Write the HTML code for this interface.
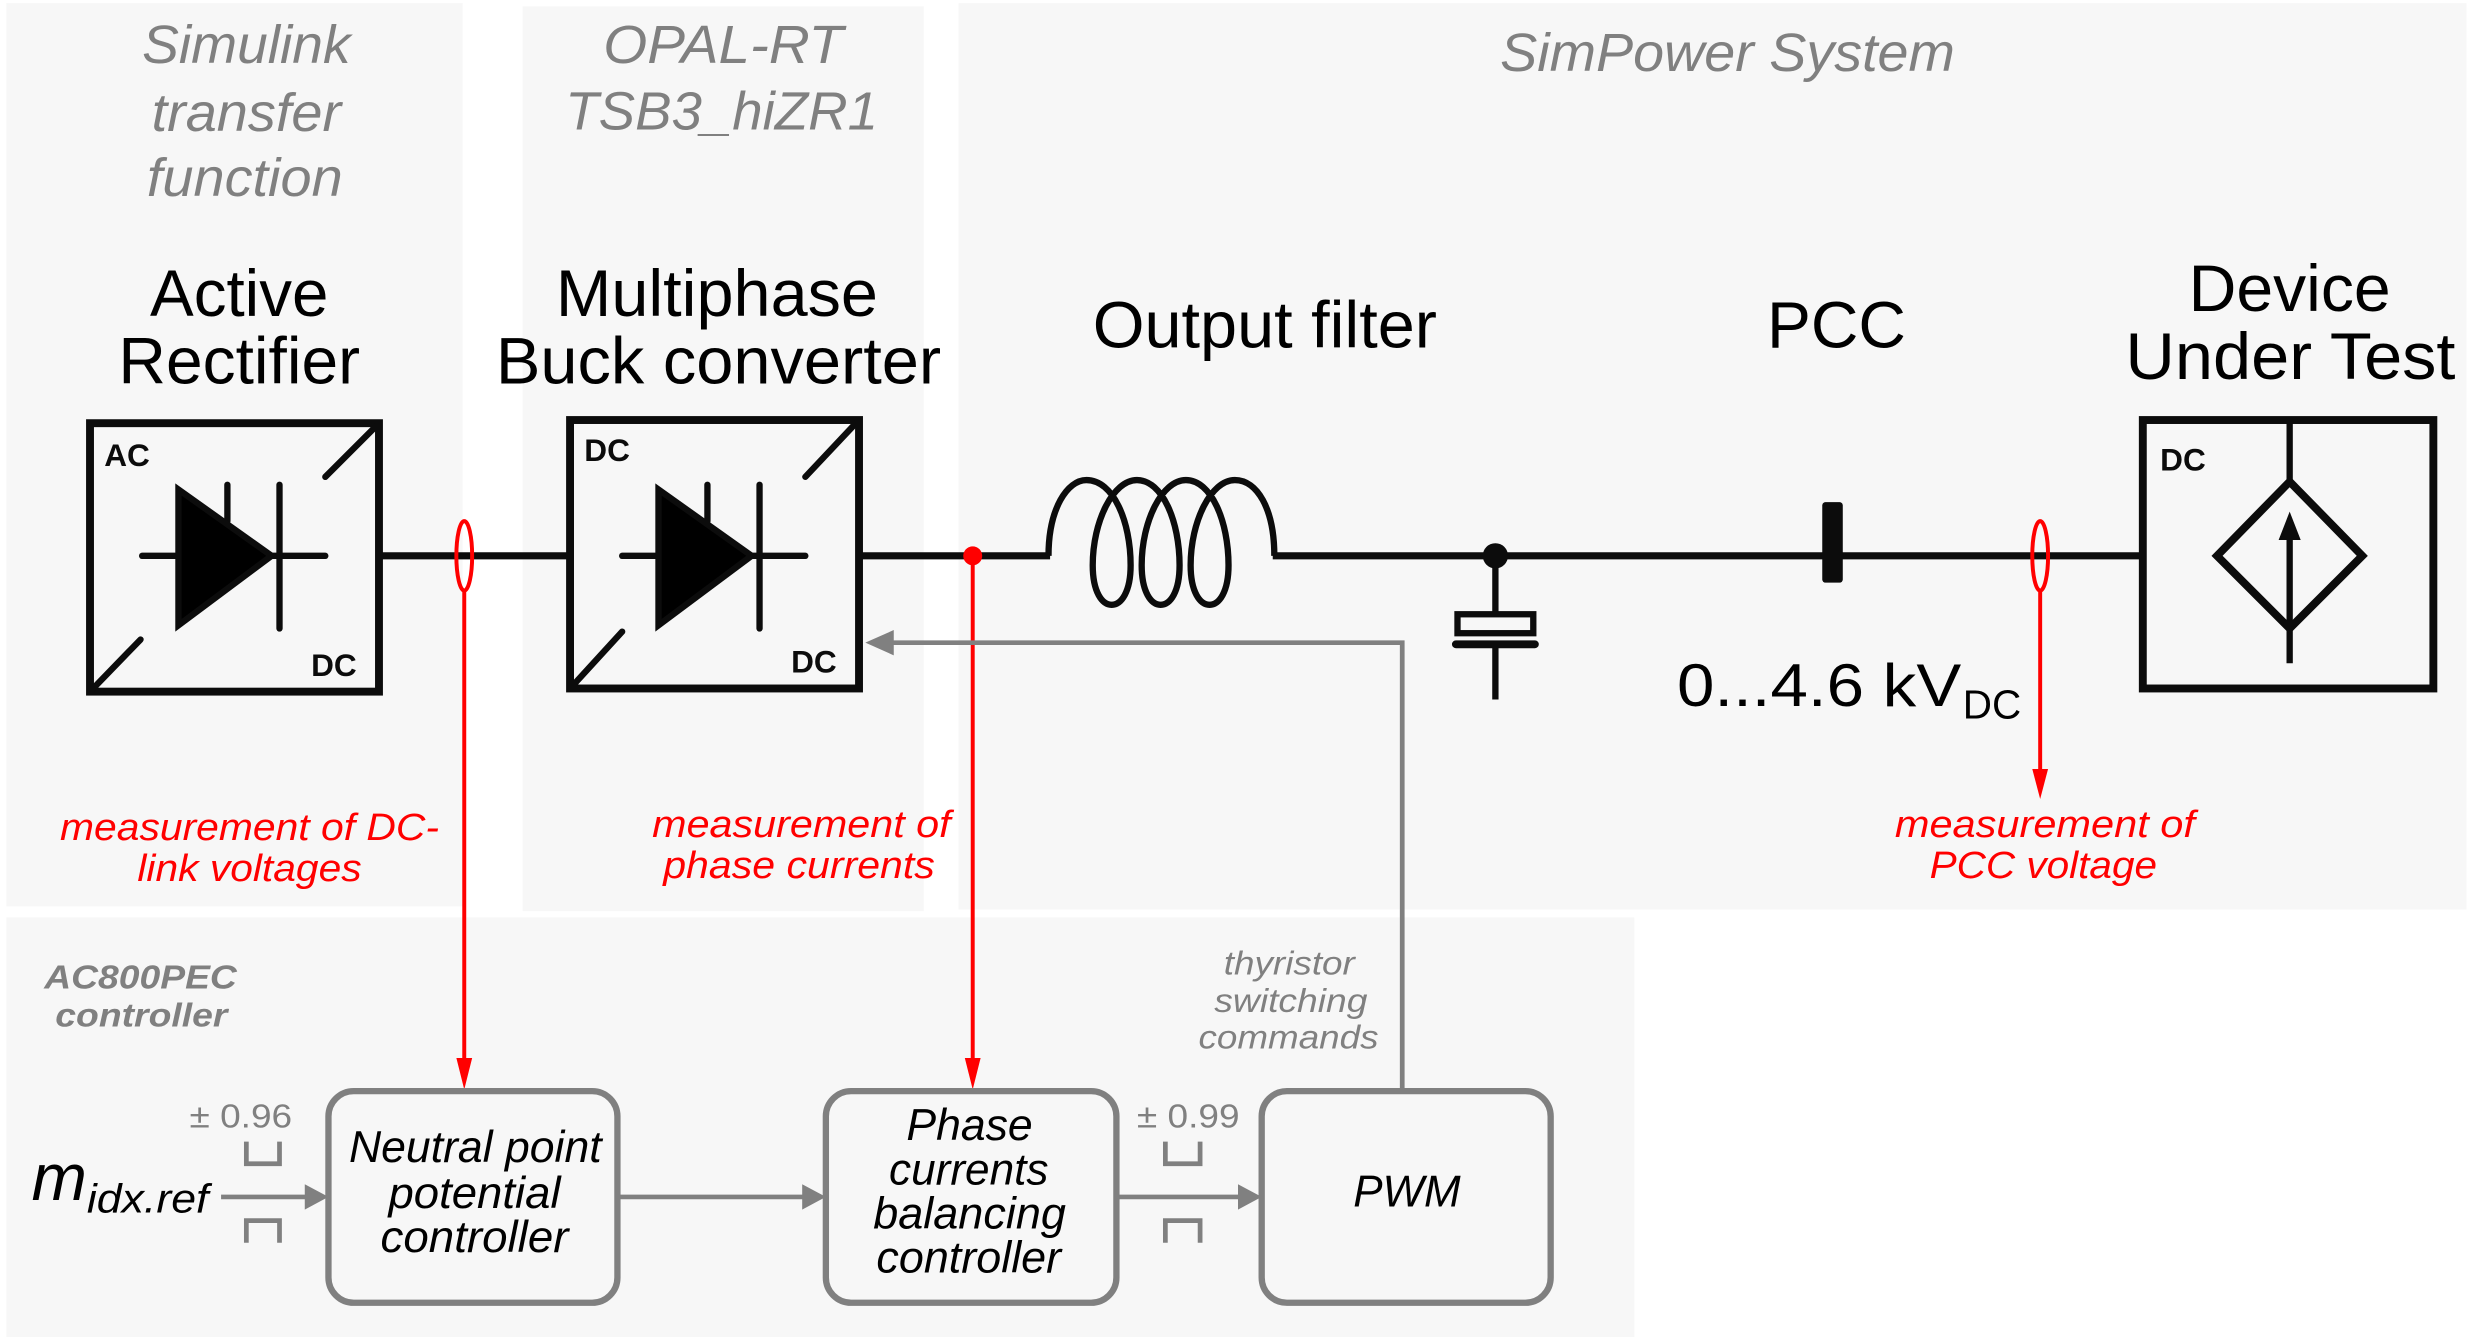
<!DOCTYPE html>
<html><head><meta charset="utf-8"><style>
html,body{margin:0;padding:0;background:#fff;}
svg{display:block;}
text{font-family:"Liberation Sans",sans-serif;}
</style></head><body>
<svg width="2476" height="1337" viewBox="0 0 1568 846.7" xmlns="http://www.w3.org/2000/svg">
<rect width="1568" height="847" fill="#fff"/>
<rect x="4" y="2" width="289" height="572" fill="#f7f7f7"/>
<rect x="331" y="4" width="254" height="573" fill="#f7f7f7"/>
<rect x="607" y="2" width="955" height="574" fill="#f7f7f7"/>
<rect x="4" y="581" width="1031" height="266" fill="#f7f7f7"/>

<g font-style="italic" fill="#808080" font-size="34">
<text x="90" y="40" textLength="132" lengthAdjust="spacingAndGlyphs">Simulink</text>
<text x="96" y="83" textLength="120" lengthAdjust="spacingAndGlyphs">transfer</text>
<text x="93" y="124" textLength="124" lengthAdjust="spacingAndGlyphs">function</text>
<text x="382" y="40" textLength="152" lengthAdjust="spacingAndGlyphs">OPAL-RT</text>
<text x="358" y="82" textLength="198" lengthAdjust="spacingAndGlyphs">TSB3_hiZR1</text>
<text x="950" y="45" textLength="288" lengthAdjust="spacingAndGlyphs">SimPower System</text>
</g>
<g fill="#000" font-size="42">
<text x="95" y="200" textLength="113" lengthAdjust="spacingAndGlyphs">Active</text>
<text x="75" y="243" textLength="153" lengthAdjust="spacingAndGlyphs">Rectifier</text>
<text x="352" y="200" textLength="204" lengthAdjust="spacingAndGlyphs">Multiphase</text>
<text x="314" y="243" textLength="282" lengthAdjust="spacingAndGlyphs">Buck converter</text>
<text x="692" y="220" textLength="218" lengthAdjust="spacingAndGlyphs">Output filter</text>
<text x="1119" y="220" textLength="88" lengthAdjust="spacingAndGlyphs">PCC</text>
<text x="1386" y="197" textLength="128" lengthAdjust="spacingAndGlyphs">Device</text>
<text x="1346" y="240" textLength="209" lengthAdjust="spacingAndGlyphs">Under Test</text>
<text x="1062" y="447" font-size="38" textLength="180" lengthAdjust="spacingAndGlyphs">0...4.6 kV</text>
<text x="1243" y="455" font-size="26" textLength="37" lengthAdjust="spacingAndGlyphs">DC</text>
</g>

<g stroke="#0c0c0c" stroke-width="4" fill="none">
<line x1="241" y1="352" x2="360" y2="352" stroke-width="4.5"/>
<line x1="545" y1="352" x2="665" y2="352" stroke-width="4.5"/>
<line x1="806" y1="352" x2="1357" y2="352" stroke-width="4.5"/>
<path d="M664,352 C664,322 676,304 688,304 C705,304 716,330 716,358 C716,375 710,383 704,383 C698,383 692,375 692,358 C692,330 705,304 720,304 C736,304 747,330 747,358 C747,375 741,383 735,383 C729,383 723,375 723,358 C723,330 736,304 751,304 C767,304 778,330 778,358 C778,375 772,383 766,383 C760,383 754,375 754,358 C754,330 767,304 782,304 C796,304 807,322 807,352"/>
<rect x="57" y="268" width="183" height="170" stroke-width="5"/>
<line x1="238" y1="270" x2="206" y2="302" stroke-linecap="round"/>
<line x1="58" y1="437" x2="89" y2="405" stroke-linecap="round"/>
<line x1="90" y1="352" x2="206" y2="352" stroke-linecap="round"/>
<line x1="177" y1="307" x2="177" y2="398" stroke-linecap="round"/>
<line x1="144" y1="307" x2="144" y2="330" stroke-linecap="round"/>
<rect x="361" y="266" width="183" height="170" stroke-width="5"/>
<line x1="542" y1="268" x2="510" y2="302" stroke-linecap="round"/>
<line x1="362" y1="435" x2="394" y2="400" stroke-linecap="round"/>
<line x1="394" y1="352" x2="510" y2="352" stroke-linecap="round"/>
<line x1="481" y1="307" x2="481" y2="398" stroke-linecap="round"/>
<line x1="448" y1="307" x2="448" y2="330" stroke-linecap="round"/>
<line x1="947" y1="352" x2="947" y2="388"/>
<rect x="923" y="389" width="48" height="12"/>
<line x1="922" y1="408" x2="972" y2="408" stroke-width="5" stroke-linecap="round"/>
<line x1="947" y1="408" x2="947" y2="443"/>
<rect x="1357" y="266" width="184" height="170" stroke-width="5"/>
<line x1="1450" y1="266" x2="1450" y2="420"/>
<polygon points="1450,305 1496,352 1450,398 1404,352" stroke-width="5" fill="#f7f7f7"/>
<line x1="1450" y1="395" x2="1450" y2="335"/>
</g>
<polygon points="1450,324 1443,342 1457,342" fill="#0c0c0c"/>
<polygon points="113,310 113,396 172,352" fill="#000" stroke="#0c0c0c" stroke-width="4"/>
<polygon points="417,310 417,396 476,352" fill="#000" stroke="#0c0c0c" stroke-width="4"/>
<circle cx="947" cy="352" r="8" fill="#0c0c0c"/>
<rect x="1154" y="318" width="13" height="51" rx="2" fill="#0c0c0c"/>
<g font-weight="bold" font-size="20" fill="#0c0c0c">
<text x="66" y="295">AC</text><text x="197" y="428">DC</text>
<text x="370" y="292">DC</text><text x="501" y="426">DC</text>
<text x="1368" y="298">DC</text>
</g>

<g stroke="#f00" fill="none" stroke-width="2.5">
<ellipse cx="294" cy="352" rx="5" ry="22"/>
<ellipse cx="1292" cy="352" rx="5" ry="22"/>
<line x1="294" y1="374" x2="294" y2="675"/>
<line x1="616" y1="352" x2="616" y2="675"/>
<line x1="1292" y1="374" x2="1292" y2="490"/>
</g>
<circle cx="616" cy="352" r="6" fill="#f00"/>
<polygon points="289,670 299,670 294,690" fill="#f00"/>
<polygon points="611,670 621,670 616,690" fill="#f00"/>
<polygon points="1287,487 1297,487 1292,506" fill="#f00"/>
<g fill="#f00" font-style="italic" font-size="24">
<text x="38" y="532" textLength="240" lengthAdjust="spacingAndGlyphs">measurement of DC-</text>
<text x="87" y="558" textLength="142" lengthAdjust="spacingAndGlyphs">link voltages</text>
<text x="413" y="530" textLength="189" lengthAdjust="spacingAndGlyphs">measurement of</text>
<text x="420" y="556" textLength="172" lengthAdjust="spacingAndGlyphs">phase currents</text>
<text x="1200" y="530" textLength="190" lengthAdjust="spacingAndGlyphs">measurement of</text>
<text x="1222" y="556" textLength="144" lengthAdjust="spacingAndGlyphs">PCC voltage</text>
</g>

<g stroke="#808080" fill="none">
<polyline points="888,690 888,407 565,407" stroke-width="3"/>
<rect x="208" y="691" width="183" height="134" rx="16" stroke-width="4"/>
<rect x="523" y="691" width="184" height="134" rx="16" stroke-width="4"/>
<rect x="799" y="691" width="183" height="134" rx="16" stroke-width="4"/>
<line x1="140" y1="758" x2="195" y2="758" stroke-width="3"/>
<line x1="391" y1="758" x2="510" y2="758" stroke-width="3"/>
<line x1="707" y1="758" x2="786" y2="758" stroke-width="3"/>
<path d="M156,723 V737 H177 V723 M156,787 V773 H177 V787" stroke-width="3"/>
<path d="M738,723 V737 H760 V723 M738,787 V773 H760 V787" stroke-width="3"/>
</g>
<g fill="#808080">
<polygon points="548,407 566,399 566,415"/>
<polygon points="208,758 193,750 193,766"/>
<polygon points="523,758 508,750 508,766"/>
<polygon points="799,758 784,750 784,766"/>
</g>
<g fill="#808080" font-size="21">
<text x="120" y="714" textLength="65" lengthAdjust="spacingAndGlyphs">± 0.96</text>
<text x="720" y="714" textLength="65" lengthAdjust="spacingAndGlyphs">± 0.99</text>
<g font-style="italic">
<text x="775" y="617" textLength="83" lengthAdjust="spacingAndGlyphs">thyristor</text>
<text x="769" y="641" textLength="97" lengthAdjust="spacingAndGlyphs">switching</text>
<text x="759" y="664" textLength="114" lengthAdjust="spacingAndGlyphs">commands</text>
<text x="28" y="626" font-weight="bold" textLength="122" lengthAdjust="spacingAndGlyphs">AC800PEC</text>
<text x="35" y="650" font-weight="bold" textLength="109" lengthAdjust="spacingAndGlyphs">controller</text>
</g></g>
<g fill="#000" font-style="italic" font-size="28">
<text x="20" y="760" font-size="42" textLength="35" lengthAdjust="spacingAndGlyphs">m</text>
<text x="55" y="768" font-size="26" textLength="77" lengthAdjust="spacingAndGlyphs">idx.ref</text>
<text x="221" y="736" textLength="160" lengthAdjust="spacingAndGlyphs">Neutral point</text>
<text x="246" y="765" textLength="109" lengthAdjust="spacingAndGlyphs">potential</text>
<text x="241" y="793" textLength="119" lengthAdjust="spacingAndGlyphs">controller</text>
<text x="574" y="722" textLength="80" lengthAdjust="spacingAndGlyphs">Phase</text>
<text x="563" y="750" textLength="101" lengthAdjust="spacingAndGlyphs">currents</text>
<text x="553" y="778" textLength="122" lengthAdjust="spacingAndGlyphs">balancing</text>
<text x="555" y="806" textLength="117" lengthAdjust="spacingAndGlyphs">controller</text>
<text x="857" y="764" textLength="68" lengthAdjust="spacingAndGlyphs">PWM</text>
</g>
</svg>
</body></html>
